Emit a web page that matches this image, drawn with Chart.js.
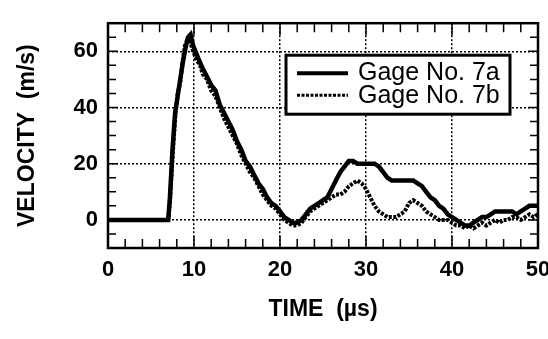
<!DOCTYPE html>
<html>
<head>
<meta charset="utf-8">
<script src="https://cdn.jsdelivr.net/npm/chart.js@4.4.1/dist/chart.umd.min.js"></script>
<style>
  body { margin: 0; background: #fff; }
  #wrap { width: 548px; height: 339px; }
</style>
</head>
<body>
<div id="wrap"><canvas id="myChart"></canvas></div>
<script>
'use strict';

// time in microseconds
let times = [0, 7, 7.2, 7.5, 7.8, 8.1, 8.4, 8.7, 9.0, 9.3, 9.6, 9.9, 10.3, 10.7,
  11, 11.5, 12, 12.5, 13, 13.5, 14, 14.5, 15, 15.5, 16, 16.5, 17, 17.5, 18, 18.5,
  19, 19.5, 20, 20.5, 21, 21.5, 22, 22.5, 23, 23.5, 24, 24.5, 25, 25.5, 26, 26.5,
  27, 27.5, 28, 28.5, 29, 29.5, 30, 30.5, 31, 31.5, 32, 32.5, 33, 33.5, 34, 34.5,
  35, 35.5, 36, 36.5, 37, 37.5, 38, 38.5, 39, 39.5, 40, 40.5, 41, 41.5, 42, 42.5,
  43, 43.5, 44, 44.5, 45, 45.5, 46, 46.5, 47, 47.5, 48, 48.5, 49, 49.5, 50];

// velocity (m/s)
let gage7a = [0, 0, 8, 25, 38, 44, 50, 56, 61, 65, 66, 62, 59, 56,
  54, 51, 48, 46, 41, 38, 35, 32, 28, 25, 21, 19, 16, 13, 11, 8,
  6, 5, 3, 1, 0, -1, -1, 0, 2, 4, 5, 6, 7, 8, 11, 14,
  17, 19, 21, 21, 20, 20, 20, 20, 20, 19, 17, 15, 14, 14, 14, 14,
  14, 14, 13, 12, 10, 8, 7, 5, 4, 2, 1, 0, -1, -2, -2, -1,
  0, 1, 1, 2, 3, 3, 3, 3, 3, 2, 3, 4, 5, 5, 5];

let gage7b = [0, 0, 6, 22, 36, 45, 49, 57, 63, 64, 63, 60, 57, 55,
  52, 50, 46, 44, 40, 36, 33, 30, 27, 23, 20, 17, 15, 12, 9, 7,
  5, 4, 2, 0, -1, -2, -2, -1, 1, 3, 4, 5, 6, 7, 8, 9,
  9, 10, 12, 13, 14, 13, 11, 8, 5, 3, 2, 1, 1, 1, 2, 3,
  6, 7, 6, 5, 3, 2, 1, 0, 0, 0, -1, -2, -2, -3, -2, -3,
  -2, -1, -2, -1, 0, -1, 0, 0, 1, 1, 0, 1, 2, 1, 2];

let xTicks = [0, 10, 20, 30, 40, 50];
let yTicks = [0, 20, 40, 60];
let seriesNames = ['Gage No. 7a', 'Gage No. 7b'];

let fontFamily = '"Liberation Sans", Arial, Helvetica, sans-serif';

function toPoints(vals) {
    return times.map((t, i) => ({ x: t, y: vals[i] }));
}

// frame, inward tick marks and the boxed legend
let framePlugin = {
    id: 'frame',
    afterDraw(chart) {
        let ctx = chart.ctx;
        let a = chart.chartArea;
        let xs = chart.scales.x;
        let ys = chart.scales.y;
        ctx.save();
        ctx.strokeStyle = '#000';

        ctx.lineWidth = 1.5;
        ctx.beginPath();
        for (let v = 2; v < 50; v += 2) {
            let px = xs.getPixelForValue(v);
            let len = v % 10 === 0 ? 12 : 9;
            ctx.moveTo(px, a.bottom);
            ctx.lineTo(px, a.bottom - len);
            ctx.moveTo(px, a.top);
            ctx.lineTo(px, a.top + len);
        }
        for (let v = -5; v < 70; v += 5) {
            let py = ys.getPixelForValue(v);
            let len = v % 20 === 0 ? 10 : 8;
            ctx.moveTo(a.left, py);
            ctx.lineTo(a.left + len, py);
            ctx.moveTo(a.right, py);
            ctx.lineTo(a.right - len, py);
        }
        ctx.stroke();

        ctx.lineWidth = 2.5;
        ctx.strokeRect(a.left, a.top, a.right - a.left, a.bottom - a.top);

        // legend box
        let bx = a.right - 28 - 224;
        let by = a.top + 32;
        ctx.fillStyle = '#fff';
        ctx.fillRect(bx, by, 224, 59);
        ctx.lineWidth = 3;
        ctx.strokeRect(bx, by, 224, 59);

        ctx.lineWidth = 4;
        ctx.beginPath();
        ctx.moveTo(bx + 11, by + 18);
        ctx.lineTo(bx + 62, by + 18);
        ctx.stroke();
        ctx.lineWidth = 3;
        ctx.setLineDash([3, 1.5]);
        ctx.beginPath();
        ctx.moveTo(bx + 11, by + 40);
        ctx.lineTo(bx + 62, by + 40);
        ctx.stroke();
        ctx.setLineDash([]);

        ctx.fillStyle = '#000';
        ctx.font = '25px ' + fontFamily;
        ctx.textBaseline = 'alphabetic';
        ctx.fillText(seriesNames[0], bx + 72, by + 25);
        ctx.fillText(seriesNames[1], bx + 72, by + 48);
        ctx.restore();
    }
};

let ctx = document.getElementById('myChart').getContext('2d');
let myChart = new Chart(ctx, {
    type: 'line',
    data: {
        datasets: [{
            label: seriesNames[1],
            data: toPoints(gage7b),
            borderColor: '#000',
            borderWidth: 4,
            borderDash: [3, 1.5],
            pointRadius: 0,
            tension: 0
        }, {
            label: seriesNames[0],
            data: toPoints(gage7a),
            borderColor: '#000',
            borderWidth: 4.5,
            pointRadius: 0,
            tension: 0
        }]
    },
    options: {
        responsive: true,
        maintainAspectRatio: false,
        animation: false,
        layout: { padding: { top: 9, right: 10, left: 0, bottom: 0 } },
        plugins: {
            legend: { display: false },
            tooltip: { enabled: false }
        },
        scales: {
            x: {
                type: 'linear',
                min: 0,
                max: 50,
                afterBuildTicks: (s) => { s.ticks = xTicks.map(v => ({ value: v })); },
                afterFit: (s) => {
                    s.height = 91;
                    // let the "50" run off the edge like the original
                    s.paddingLeft = 0;
                    s.paddingRight = 0;
                },
                ticks: {
                    color: '#000',
                    padding: 9,
                    maxRotation: 0,
                    font: { family: fontFamily, size: 22, weight: 'bold' }
                },
                grid: {
                    color: '#000',
                    lineWidth: 1.5,
                    drawTicks: false
                },
                border: { display: false, dash: [2, 2] },
                title: {
                    display: true,
                    text: 'TIME  (\u00b5s)',
                    color: '#000',
                    padding: { top: 0, bottom: 16 },
                    font: { family: fontFamily, size: 23, weight: 'bold' }
                }
            },
            y: {
                min: -10,
                max: 70,
                afterBuildTicks: (s) => { s.ticks = yTicks.map(v => ({ value: v })); },
                afterFit: (s) => { s.width = 108; },
                ticks: {
                    color: '#000',
                    padding: 10,
                    font: { family: fontFamily, size: 22, weight: 'bold' }
                },
                grid: {
                    color: '#000',
                    lineWidth: 1.5,
                    drawTicks: false
                },
                border: { display: false, dash: [2, 2] },
                title: {
                    display: true,
                    text: 'VELOCITY  (m/s)',
                    color: '#000',
                    padding: { top: 14, bottom: 0 },
                    font: { family: fontFamily, size: 23, weight: 'bold' }
                }
            }
        }
    },
    plugins: [framePlugin]
});
</script>
</body>
</html>
